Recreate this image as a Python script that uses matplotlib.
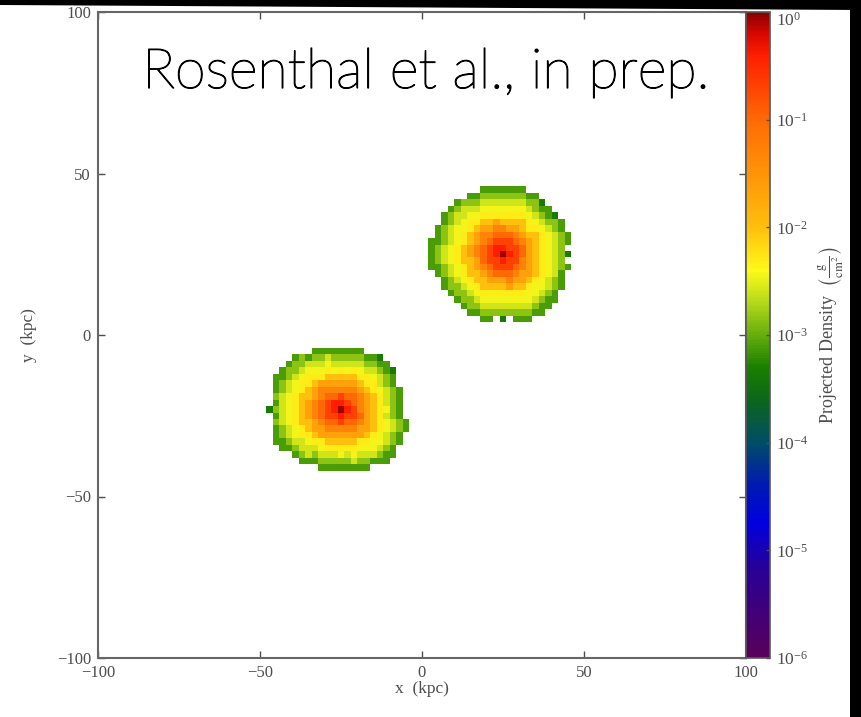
import numpy as np
import matplotlib
matplotlib.use("Agg")
import matplotlib.pyplot as plt
import matplotlib.patheffects as pe
from matplotlib.colors import LinearSegmentedColormap, LogNorm
from matplotlib.patches import Polygon

# ---------------- data ----------------
blob_centers = [(25.0, 25.0), (-25.0, -23.0)]          # kpc
# log10 projected density vs. (edge-normalised) radius, one value per 2 kpc ring
profile_radii = [0, 2, 4, 6, 8, 10, 12, 14, 16, 18, 20, 22, 24]
profile_log_density = [-0.05, -0.4, -0.7, -1.0, -1.3, -1.65, -2.0,
                       -2.3, -2.45, -2.6, -2.85, -3.1, -3.35]
edge_angles_deg = [0, 22.5, 45, 67.5, 90, 112.5, 135, 157.5,
                   180, 202.5, 225, 247.5, 270, 292.5, 315, 337.5]
blob_edge_radii = [
    [20.0, 21.0, 20.0, 21.0, 20.5, 21.5, 22.5, 22.0,
     22.5, 21.0, 20.5, 21.0, 20.0, 22.0, 21.5, 20.7],
    [19.0, 19.5, 20.0, 19.5, 18.5, 20.0, 22.0, 22.5,
     22.0, 22.5, 21.0, 19.5, 19.0, 20.0, 21.5, 21.0],
]
axis_ticks = [-100, -50, 0, 50, 100]
cbar_ticks = [1e-6, 1e-5, 1e-4, 1e-3, 1e-2, 1e-1, 1e0]
n_bins = 100
ref_radius = 23.0

# ---------------- colormap ----------------
cmap_nodes = [
    (0.000, (0.35, 0.00, 0.35)),
    (0.142, (0.15, 0.00, 0.60)),
    (0.208, (0.00, 0.00, 0.88)),
    (0.267, (0.00, 0.10, 0.70)),
    (0.333, (0.00, 0.30, 0.40)),
    (0.400, (0.05, 0.40, 0.10)),
    (0.450, (0.10, 0.50, 0.00)),
    (0.500, (0.40, 0.68, 0.05)),
    (0.550, (0.70, 0.85, 0.10)),
    (0.600, (1.00, 0.98, 0.10)),
    (0.667, (1.00, 0.75, 0.05)),
    (0.750, (1.00, 0.58, 0.03)),
    (0.833, (1.00, 0.42, 0.02)),
    (0.933, (1.00, 0.12, 0.00)),
    (0.967, (0.85, 0.03, 0.00)),
    (1.000, (0.55, 0.00, 0.00)),
]
cmap = LinearSegmentedColormap.from_list("dens", cmap_nodes)

# ---------------- build grid ----------------
edges = np.linspace(-100, 100, n_bins + 1)
cent = 0.5 * (edges[:-1] + edges[1:])
X, Y = np.meshgrid(cent, cent)
Z = np.full(X.shape, np.nan)
prof = np.array(profile_log_density)
step = profile_radii[1] - profile_radii[0]
nsec = len(edge_angles_deg)
for (cx, cy), radii in zip(blob_centers, blob_edge_radii):
    dx, dy = X - cx, Y - cy
    r = np.hypot(dx, dy)
    th = np.degrees(np.arctan2(dy, dx)) % 360
    sector = np.round(th / (360 / nsec)).astype(int) % nsec
    redge = np.array(radii)[sector]
    inside = r <= redge
    rs = r * ref_radius / redge
    idx = np.clip(np.round(rs / step).astype(int), 0, len(prof) - 1)
    vals = 10 ** prof[idx]
    Z[inside] = vals[inside]
Zm = np.ma.masked_invalid(Z)

# ---------------- figure ----------------
plt.rcParams["font.family"] = ["Liberation Serif", "DejaVu Serif"]
plt.rcParams["mathtext.fontset"] = "stix"

fig = plt.figure(figsize=(8.61, 7.17), dpi=100)
fig.patch.set_facecolor("white")
W, H = 861, 717
ax = fig.add_axes([98 / W, 59 / H, 648 / W, 646 / H])
pcm = ax.pcolormesh(edges, edges, Zm, cmap=cmap,
                    norm=LogNorm(vmin=1e-6, vmax=1.0), shading="flat")
ax.set_xlim(-100, 100)
ax.set_ylim(-100, 100)
ax.set_xticks(axis_ticks)
ax.set_yticks(axis_ticks)
ax.tick_params(direction="in", length=5, width=1, top=True, right=True,
               labelsize=12, colors="0.3")
ax.tick_params(axis="x", pad=5)
ax.tick_params(axis="y", pad=5)
for s in ax.spines.values():
    s.set_color("0.4")
    s.set_linewidth(1.5)
ax.set_xlabel("x  (kpc)", fontsize=12.5, color="0.3")
ax.set_ylabel("y  (kpc)", fontsize=12.5, color="0.3")
ax.xaxis.set_label_coords(0.5, -0.036)
ax.yaxis.set_label_coords(-0.094, 0.5)

cax = fig.add_axes([746 / W, 59 / H, 24 / W, 646 / H])
cb = fig.colorbar(pcm, cax=cax, ticks=cbar_ticks)
cb.outline.set_edgecolor("0.35")
cb.outline.set_linewidth(1.2)
cax.tick_params(which="major", direction="in", length=3, width=1,
                labelsize=12.5, colors="0.3", pad=4)
cax.tick_params(which="minor", length=0)
cb.set_label(r"Projected Density  $\left(\frac{\mathrm{g}}{\mathrm{cm}^2}\right)$",
             fontsize=13, color="0.3", labelpad=6)
fig.canvas.draw()
tl = cax.get_yticklabels()
tl[-1].set_verticalalignment("top")

fig.text(426 / W, 1 - 88 / H, "Rosenthal et al., in prep.",
         fontsize=40, family="Lato", fontweight="light",
         ha="center", va="baseline", color="black", zorder=20,
         path_effects=[pe.withStroke(linewidth=0.9, foreground="black")])

# dark frame bands of the original screenshot
fig.patches.append(Polygon([(0, 1), (1, 1), (1, 1 - 10 / H), (0, 1 - 5 / H)],
                           closed=True, transform=fig.transFigure,
                           facecolor="black", edgecolor="none", zorder=30))
fig.patches.append(Polygon([(850 / W, 0), (1, 0), (1, 1), (850 / W, 1)],
                           closed=True, transform=fig.transFigure,
                           facecolor="black", edgecolor="none", zorder=30))

fig.savefig("out.png", dpi=100, facecolor=fig.get_facecolor())
